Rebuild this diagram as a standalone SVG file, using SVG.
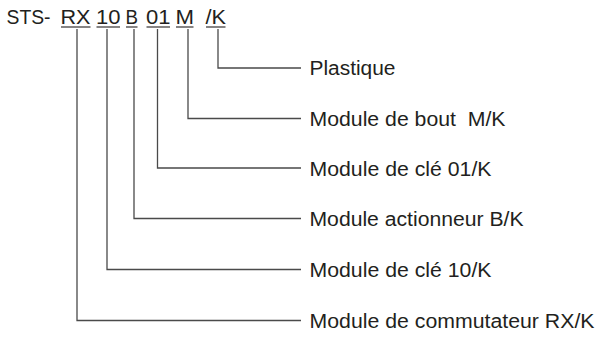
<svg xmlns="http://www.w3.org/2000/svg" width="597" height="338" viewBox="0 0 597 338">
<style>
text{font-family:"Liberation Sans",Arial,sans-serif;font-size:19.5px;fill:#231f20}
.c{fill:none;stroke:#4a4a4a;stroke-width:1.3}
.u{stroke:#231f20;stroke-width:1.1}
</style>
<rect width="597" height="338" fill="#fff"/>
<g id="code">
<text x="6.5" y="23.5" textLength="44" lengthAdjust="spacingAndGlyphs">STS-</text>
<text x="60.5" y="23.5" textLength="30" lengthAdjust="spacingAndGlyphs">RX</text>
<text x="96" y="23.5" textLength="24.5" lengthAdjust="spacingAndGlyphs">10</text>
<text x="125.5" y="23.5" textLength="12.5" lengthAdjust="spacingAndGlyphs">B</text>
<text x="146" y="23.5" textLength="24.5" lengthAdjust="spacingAndGlyphs">01</text>
<text x="175.5" y="23.5" textLength="18.5" lengthAdjust="spacingAndGlyphs">M</text>
<text x="205.5" y="23.5" textLength="20.5" lengthAdjust="spacingAndGlyphs">/K</text>
<line class="u" x1="61" y1="27" x2="90.5" y2="27"/>
<line class="u" x1="96.5" y1="27" x2="120" y2="27"/>
<line class="u" x1="126" y1="27" x2="137.5" y2="27"/>
<line class="u" x1="146.5" y1="27" x2="170" y2="27"/>
<line class="u" x1="176" y1="27" x2="193.5" y2="27"/>
<line class="u" x1="206" y1="27" x2="225.5" y2="27"/>
</g>
<g id="connectors">
<polyline class="c" points="218,29 218,68 301,68"/>
<polyline class="c" points="188,29 188,118.5 301,118.5"/>
<polyline class="c" points="157.5,29 157.5,168 301,168"/>
<polyline class="c" points="134,29 134,218.5 301,218.5"/>
<polyline class="c" points="107,29 107,269.5 301,269.5"/>
<polyline class="c" points="77,29 77,320.5 301,320.5"/>
</g>
<g id="plastique"><text x="309.5" y="75" textLength="86" lengthAdjust="spacingAndGlyphs">Plastique</text></g>
<g id="bout"><text x="309.5" y="125.5" xml:space="preserve" textLength="196" lengthAdjust="spacingAndGlyphs">Module de bout  M/K</text></g>
<g id="cle01"><text x="309.5" y="175.5" textLength="182" lengthAdjust="spacingAndGlyphs">Module de clé 01/K</text></g>
<g id="actionneur"><text x="309.5" y="226" textLength="214" lengthAdjust="spacingAndGlyphs">Module actionneur B/K</text></g>
<g id="cle10"><text x="309.5" y="276.5" textLength="182" lengthAdjust="spacingAndGlyphs">Module de clé 10/K</text></g>
<g id="commutateur"><text x="309.5" y="327.5" textLength="285" lengthAdjust="spacingAndGlyphs">Module de commutateur RX/K</text></g>
</svg>
